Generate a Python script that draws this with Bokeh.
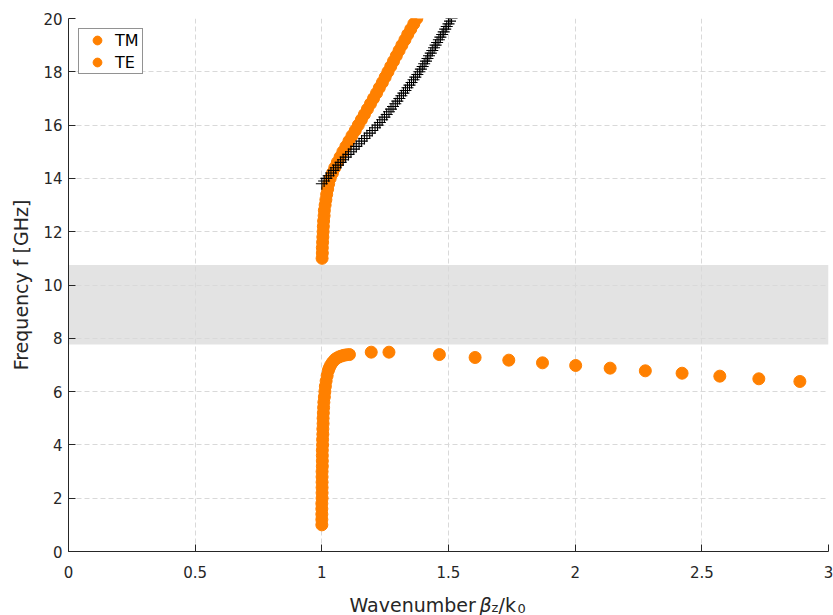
from bokeh.plotting import figure
from bokeh.layouts import column
from bokeh.models import Legend, LegendItem, BoxAnnotation, FixedTicker, Range1d
from bokeh.core.properties import value
from bokeh.embed import file_html
from bokeh.resources import INLINE

# ---------------- data ----------------
# upper TM branch (orange): frequency [GHz] and beta_z/k0
tm_up_f = [11.0, 11.2, 11.4, 11.6, 11.8, 12.0, 12.2, 12.4, 12.6, 12.8,
           13.0, 13.2, 13.4, 13.6, 13.8, 14.0, 14.2, 14.4, 14.6, 14.8,
           15.0, 15.2, 15.4, 15.6, 15.8, 16.0, 16.2, 16.4, 16.6, 16.8,
           17.0, 17.2, 17.4, 17.6, 17.8, 18.0, 18.2, 18.4, 18.6, 18.8,
           19.0, 19.2, 19.4, 19.6, 19.8, 20.0]
tm_up_b = [1.001, 1.002, 1.002, 1.003, 1.004, 1.005, 1.006, 1.007, 1.009, 1.010,
           1.013, 1.016, 1.019, 1.023, 1.027, 1.033, 1.042, 1.051, 1.061, 1.072,
           1.083, 1.095, 1.107, 1.119, 1.132, 1.144, 1.156, 1.168, 1.180, 1.192,
           1.204, 1.216, 1.227, 1.239, 1.250, 1.261, 1.272, 1.283, 1.294, 1.305,
           1.316, 1.328, 1.339, 1.351, 1.363, 1.375]

# lower branch (orange)
low_f = [1.0, 1.2, 1.4, 1.6, 1.8, 2.0, 2.2, 2.4, 2.6, 2.8,
         3.0, 3.2, 3.4, 3.6, 3.8, 4.0, 4.2, 4.4, 4.6, 4.8,
         5.0, 5.2, 5.4, 5.6, 5.8, 6.0, 6.2, 6.4, 6.6, 6.8,
         6.9, 7.0, 7.1, 7.2, 7.25, 7.3, 7.33, 7.36, 7.38, 7.39,
         7.48, 7.48, 7.39, 7.28, 7.18, 7.08, 6.98, 6.88, 6.78, 6.69,
         6.58, 6.48, 6.38]
low_b = [1.000, 1.000, 1.000, 1.000, 1.000, 1.001, 1.001, 1.001, 1.001, 1.001,
         1.001, 1.002, 1.002, 1.002, 1.002, 1.003, 1.003, 1.004, 1.004, 1.005,
         1.005, 1.006, 1.007, 1.008, 1.010, 1.012, 1.014, 1.017, 1.021, 1.026,
         1.030, 1.035, 1.042, 1.051, 1.058, 1.067, 1.076, 1.086, 1.097, 1.109,
         1.195, 1.265, 1.464, 1.605, 1.738, 1.871, 2.002, 2.138, 2.277, 2.422,
         2.571, 2.725, 2.887]

# black "+" branch
te_f = [13.8, 13.9, 14.0, 14.1, 14.2, 14.3, 14.4, 14.5, 14.6, 14.7,
        14.8, 14.9, 15.0, 15.1, 15.2, 15.3, 15.4, 15.5, 15.6, 15.7,
        15.8, 15.9, 16.0, 16.1, 16.2, 16.3, 16.4, 16.5, 16.6, 16.7,
        16.8, 16.9, 17.0, 17.1, 17.2, 17.3, 17.4, 17.5, 17.6, 17.7,
        17.8, 17.9, 18.0, 18.1, 18.2, 18.3, 18.4, 18.5, 18.6, 18.7,
        18.8, 18.9, 19.0, 19.1, 19.2, 19.3, 19.4, 19.5, 19.6, 19.7,
        19.8, 19.9, 20.0]
te_b = [1.000, 1.009, 1.018, 1.027, 1.036, 1.046, 1.055, 1.064, 1.074, 1.084,
        1.094, 1.105, 1.115, 1.126, 1.136, 1.147, 1.157, 1.168, 1.178, 1.189,
        1.199, 1.210, 1.220, 1.229, 1.238, 1.247, 1.256, 1.265, 1.273, 1.281,
        1.290, 1.298, 1.306, 1.314, 1.322, 1.330, 1.338, 1.346, 1.354, 1.362,
        1.369, 1.377, 1.385, 1.391, 1.398, 1.404, 1.411, 1.417, 1.423, 1.430,
        1.436, 1.443, 1.449, 1.455, 1.462, 1.468, 1.475, 1.481, 1.487, 1.493,
        1.500, 1.506, 1.512]

# band gap (grey region)
band_gap = [7.77, 10.75]

x_ticks = [0, 0.5, 1, 1.5, 2, 2.5, 3]
y_ticks = [0, 2, 4, 6, 8, 10, 12, 14, 16, 18, 20]
legend_labels = ["TM", "TE"]
y_label = "Frequency f [GHz]"
# x label pieces: text, is_subscript, italic
x_label_parts = [("Wavenumber", False, False), ("β", False, True),
                 ("z", True, False), ("/k", False, False), ("0", True, False)]

# ---------------- styling ----------------
ORANGE = "#ff8000"
AXC = "#262626"
FONT = "DejaVu Sans"
LEFT, RIGHT = 68, 5

p = figure(width=833, height=587, x_range=(0, 3), y_range=(0, 20),
           output_backend="svg", toolbar_location=None,
           min_border_left=LEFT, min_border_right=RIGHT, min_border_top=18,
           min_border_bottom=36)
p.outline_line_color = None
p.background_fill_color = "white"

band = BoxAnnotation(bottom=band_gap[0], top=band_gap[1], fill_color="#e3e3e3",
                     fill_alpha=1.0, line_color=None, level="image")
p.add_layout(band)

for g in (p.xgrid[0], p.ygrid[0]):
    g.grid_line_color = "#d9d9d9"
    g.grid_line_dash = "5 3"
    g.grid_line_width = 1
    g.level = "underlay"

p.xaxis.ticker = FixedTicker(ticks=x_ticks)
p.yaxis.ticker = FixedTicker(ticks=y_ticks)
for ax in (p.xaxis[0], p.yaxis[0]):
    ax.axis_line_color = AXC
    ax.major_tick_line_color = AXC
    ax.major_tick_in = 7
    ax.major_tick_out = 0
    ax.minor_tick_line_color = None
    ax.major_label_text_font = FONT
    ax.major_label_text_font_size = "15px"
    ax.major_label_text_color = AXC
    ax.axis_label_text_font = FONT
    ax.axis_label_text_font_size = "19px"
    ax.axis_label_text_font_style = "normal"
    ax.axis_label_text_color = AXC
p.xaxis.major_label_standoff = 14
p.yaxis.major_label_standoff = 6
p.yaxis.axis_label = y_label
p.yaxis.axis_label_standoff = 8

r_up = p.scatter(tm_up_b, tm_up_f, marker="circle", size=12,
                 fill_color=ORANGE, line_color=ORANGE)
r_low = p.scatter(low_b, low_f, marker="circle", size=12,
                  fill_color=ORANGE, line_color=ORANGE)
r_te = p.scatter(te_b, te_f, marker="cross", size=12,
                 line_color="black", line_width=1.1)

legend = Legend(items=[LegendItem(label=legend_labels[0], renderers=[r_up]),
                       LegendItem(label=legend_labels[1], renderers=[r_low])],
                location="top_left", margin=10, padding=0, spacing=0,
                glyph_width=36, glyph_height=22, label_height=22,
                label_standoff=0, label_width=27,
                label_text_font=FONT, label_text_font_size="16px",
                label_text_color="black",
                border_line_color=AXC, border_line_width=1,
                background_fill_color="white", background_fill_alpha=1.0)
p.add_layout(legend)

# ---------- strip below the axes holding the x-axis label ----------
# its frame spans the same pixels as the main frame, so x is in canvas pixels
p2 = figure(width=833, height=28, x_range=Range1d(LEFT, 833 - RIGHT),
            y_range=Range1d(615, 587),
            output_backend="svg", toolbar_location=None,
            min_border_left=LEFT, min_border_right=RIGHT,
            min_border_top=0, min_border_bottom=0,
            x_axis_type=None, y_axis_type=None)
p2.outline_line_color = None
p2.grid.visible = False

lx = [349, 479, 491, 498, 517]
ly = [604, 604, 607, 604, 608]
for (txt, sub, ital), xx, yy in zip(x_label_parts, lx, ly):
    p2.text(x=[xx], y=[yy], text=[txt], text_align="left",
            text_baseline="alphabetic", text_font=value(FONT),
            text_font_size=value("13px" if sub else "19px"),
            text_font_style="italic" if ital else "normal", text_color=AXC)

layout = column(p, p2, spacing=0)
open("out.html", "w").write(file_html(layout, INLINE))
